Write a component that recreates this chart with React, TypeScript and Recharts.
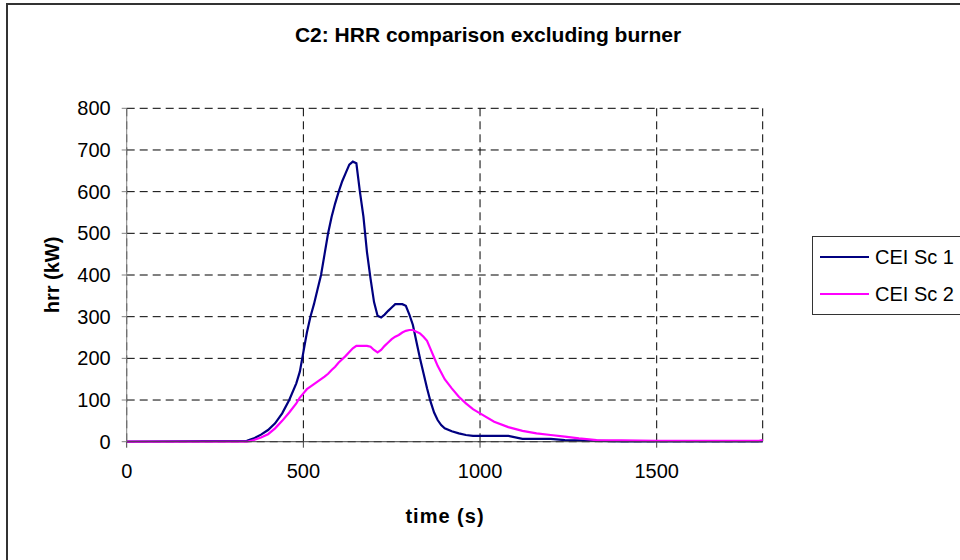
import React from "react";
import {
  LineChart,
  Line,
  XAxis,
  YAxis,
  CartesianGrid,
} from "recharts";

// sample times (s) shared by both scenarios
const timeS = [
  0, 340, 360, 380, 400, 420, 440, 460, 480, 490, 500, 510, 520, 530, 540,
  550, 560, 570, 580, 590, 600, 610, 620, 630, 640, 650, 660, 670, 680, 690,
  700, 710, 720, 730, 740, 750, 760, 770, 780, 790, 800, 810, 820, 830, 840,
  850, 860, 870, 880, 890, 900, 920, 940, 960, 980, 1000, 1040, 1080, 1120,
  1160, 1200, 1240, 1280, 1330, 1400, 1500, 1600, 1700, 1790, 1800,
];

// heat release rate, kW
const ceiSc1 = [
  0, 2, 8, 17, 28, 44, 68, 100, 140, 168, 215, 262, 300, 330, 365,
  400, 450, 500, 540, 572, 600, 625, 645, 665, 672, 668, 600, 540, 455, 392,
  335, 302, 298, 305, 314, 322, 330, 330, 330, 326, 305, 280, 240, 200, 164,
  128, 96, 70, 52, 40, 32, 25, 20, 16, 14, 14, 14, 14, 7,
  7, 7, 4, 3, 2, 1, 1, 1, 1, 1, 1,
];

const ceiSc2 = [
  0, 0, 4, 10, 18, 32, 50, 70, 92, 106, 116, 126, 132, 138, 144,
  150, 156, 163, 172, 180, 190, 198, 206, 215, 224, 230, 230, 230, 230, 228,
  220, 214, 220, 230, 238, 246, 252, 256, 262, 266, 268, 268, 264, 260, 252,
  242, 222, 202, 182, 166, 150, 128, 108, 92, 78, 68, 48, 35, 26,
  20, 16, 12, 8, 4, 3, 2, 2, 2, 2, 4,
];

const xTicks = [0, 500, 1000, 1500];
const yTicks = [0, 100, 200, 300, 400, 500, 600, 700, 800];

const seriesNames = ["CEI Sc 1", "CEI Sc 2"];
const seriesColors = ["#000080", "#FF00FF"];

const rows = timeS.map((t, i) => ({ t, sc1: ceiSc1[i], sc2: ceiSc2[i] }));

const font = "'Liberation Sans', Arial, sans-serif";
const tickStyle = { fontSize: 20, fill: "#000", fontFamily: font };

export default function App() {
  return (
    <div
      style={{
        position: "absolute",
        left: 0,
        top: 0,
        width: 960,
        height: 560,
        overflow: "hidden",
        background: "#fff",
        fontFamily: font,
      }}
    >
      {/* chart area frame */}
      <div
        style={{
          position: "absolute",
          left: 6,
          top: 3,
          width: 1000,
          height: 600,
          border: "2px solid #333",
        }}
      />
      <div
        style={{
          position: "absolute",
          left: 488,
          top: 35,
          transform: "translate(-50%, -50%)",
          whiteSpace: "nowrap",
          fontSize: 21,
          fontWeight: "bold",
          color: "#000",
        }}
      >
        C2: HRR comparison excluding burner
      </div>

      <div style={{ position: "absolute", left: 0, top: 0 }}>
        <LineChart
          width={960}
          height={560}
          data={rows}
          margin={{ top: 108.3, right: 197.3, left: 66.7, bottom: 88.3 }}
        >
          <CartesianGrid stroke="#000" strokeDasharray="8 5" />
          <XAxis
            dataKey="t"
            type="number"
            domain={[0, 1800]}
            ticks={xTicks}
            height={30}
            interval={0}
            stroke="#404040"
            tick={tickStyle}
            tickSize={6}
            tickMargin={16}
          />
          <YAxis
            type="number"
            domain={[0, 800]}
            ticks={yTicks}
            width={60}
            interval={0}
            stroke="#808080"
            tick={tickStyle}
            tickSize={5}
            tickMargin={11}
          />
          <Line
            type="linear"
            dataKey="sc1"
            name={seriesNames[0]}
            stroke={seriesColors[0]}
            strokeWidth={2.2}
            dot={false}
            isAnimationActive={false}
          />
          <Line
            type="linear"
            dataKey="sc2"
            name={seriesNames[1]}
            stroke={seriesColors[1]}
            strokeWidth={2.2}
            dot={false}
            isAnimationActive={false}
          />
        </LineChart>
      </div>

      {/* axis titles */}
      <div
        style={{
          position: "absolute",
          left: 52,
          top: 275,
          transform: "translate(-50%, -50%) rotate(-90deg)",
          whiteSpace: "nowrap",
          fontSize: 20,
          fontWeight: "bold",
          color: "#000",
        }}
      >
        hrr (kW)
      </div>
      <div
        style={{
          position: "absolute",
          left: 445,
          top: 516,
          transform: "translate(-50%, -50%)",
          whiteSpace: "nowrap",
          fontSize: 20,
          fontWeight: "bold",
          letterSpacing: 1,
          color: "#000",
        }}
      >
        time (s)
      </div>

      {/* legend */}
      <div
        style={{
          position: "absolute",
          left: 812,
          top: 236,
          width: 200,
          height: 77,
          border: "1px solid #333",
          background: "#fff",
        }}
      >
        {seriesNames.map((name, i) => (
          <div
            key={name}
            style={{
              position: "absolute",
              left: 7,
              top: 8 + i * 37,
              height: 24,
              display: "flex",
              alignItems: "center",
              whiteSpace: "nowrap",
            }}
          >
            <span
              style={{
                display: "inline-block",
                width: 49,
                height: 2,
                background: seriesColors[i],
                marginRight: 6,
              }}
            />
            <span style={{ fontSize: 20, color: "#000" }}>{name}</span>
          </div>
        ))}
      </div>
    </div>
  );
}
